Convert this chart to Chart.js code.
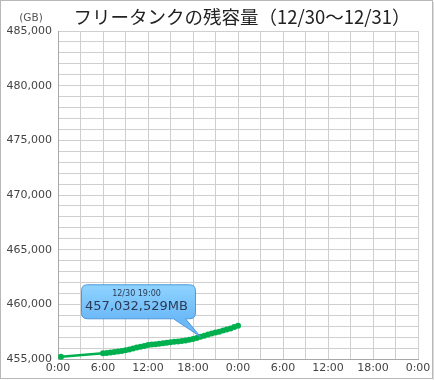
<!DOCTYPE html>
<html>
<head>
<meta charset="utf-8">
<script src="https://cdn.jsdelivr.net/npm/chart.js@4/dist/chart.umd.min.js"></script>
<style>
  html, body { margin: 0; padding: 0; background: #fff; }
  #wrap { width: 434px; height: 380px; }
</style>
</head>
<body>
<div id="wrap"><canvas id="myChart" width="434" height="380"></canvas></div>
<script>
// ----------- DATA ------------
// hours since 12/30 0:00
const hours = [0.4, 6, 6.5, 7, 7.5, 8, 8.5, 9, 9.5, 10, 10.5, 11, 11.5, 12, 12.5, 13, 13.5, 14, 14.5,
  15, 15.5, 16, 16.5, 17, 17.5, 18, 18.5, 19, 19.5, 20, 20.5, 21, 21.5, 22, 22.5, 23, 23.5, 24];
// free capacity (GB)
const capacity = [455200, 455520, 455560, 455600, 455650, 455690, 455730, 455800, 455880, 455960,
  456050, 456130, 456200, 456270, 456320, 456360, 456400, 456440, 456490, 456530, 456570, 456610,
  456650, 456700, 456760, 456830, 456920, 457032, 457130, 457230, 457330, 457420, 457500, 457600,
  457700, 457800, 457920, 458050];
const titleText = 'フリータンクの残容量（12/30〜12/31）';
const unitText = '(GB)';
const calloutIndex = 27;
const calloutDate = '12/30 19:00';
const calloutValue = '457,032,529MB';

const points = hours.map((h, i) => ({ x: h, y: capacity[i] }));

// ----------- PLUGIN ------------
var tipX = 0, tipY = 0;
function calloutPath(ctx, x, y, w, h, r) {
  ctx.beginPath();
  ctx.moveTo(x + r, y);
  ctx.lineTo(x + w - r, y);
  ctx.quadraticCurveTo(x + w, y, x + w, y + r);
  ctx.lineTo(x + w, y + h - r);
  ctx.quadraticCurveTo(x + w, y + h, x + w - r, y + h);
  ctx.lineTo(x + 104, y + h);
  ctx.lineTo(tipX, tipY);
  ctx.lineTo(x + 92, y + h);
  ctx.lineTo(x + r, y + h);
  ctx.quadraticCurveTo(x, y + h, x, y + h - r);
  ctx.lineTo(x, y + r);
  ctx.quadraticCurveTo(x, y, x + r, y);
  ctx.closePath();
}

const decorPlugin = {
  id: 'decor',
  afterDraw(chart) {
    const ctx = chart.ctx;
    ctx.save();
    // frame
    ctx.strokeStyle = '#b8b8b8';
    ctx.lineWidth = 1;
    ctx.strokeRect(0.5, 0.5, 432, 378);
    ctx.strokeStyle = '#dcdcdc';
    ctx.beginPath();
    ctx.moveTo(433.5, 2); ctx.lineTo(433.5, 380);
    ctx.stroke();
    // title
    ctx.fillStyle = '#222';
    ctx.font = '18.5px "Noto Sans CJK JP"';
    ctx.textAlign = 'center';
    ctx.textBaseline = 'middle';
    ctx.fillText(titleText, 242, 17);
    ctx.font = '10.5px "DejaVu Sans"';
    ctx.fillStyle = '#555';
    ctx.fillText(unitText, 31, 18);

    // callout
    const xs = chart.scales.x, ys = chart.scales.y;
    tipX = xs.getPixelForValue(hours[calloutIndex]);
    tipY = ys.getPixelForValue(capacity[calloutIndex]);
    const bx = tipX - 119, by = tipY - 52, bw = 114, bh = 34;
    const grad = ctx.createLinearGradient(0, by, 0, by + bh);
    grad.addColorStop(0, '#8fd3ff');
    grad.addColorStop(1, '#6cb9f7');
    calloutPath(ctx, bx, by, bw, bh, 6);
    ctx.fillStyle = grad;
    ctx.fill();
    ctx.strokeStyle = '#4f97d8';
    ctx.lineWidth = 1;
    ctx.stroke();
    ctx.fillStyle = '#2b3a55';
    ctx.font = '8px "DejaVu Sans"';
    ctx.fillText(calloutDate, bx + 55, by + 9);
    ctx.font = '13px "DejaVu Sans"';
    ctx.fillText(calloutValue, bx + 55, by + 22);
    ctx.restore();
  }
};

// ----------- CHART ------------
function chart_layout() {
  new Chart(document.getElementById('myChart'), {
    type: 'line',
    data: {
      datasets: [{
        data: points,
        borderColor: '#00b04f',
        backgroundColor: '#00b04f',
        borderWidth: 2.5,
        pointRadius: 3,
        pointBorderWidth: 0,
        tension: 0,
        fill: false,
        clip: false
      }]
    },
    options: {
      responsive: false,
      animation: false,
      layout: { padding: { top: 31, right: 16, left: 0, bottom: 0 } },
      plugins: { legend: { display: false }, tooltip: { enabled: false } },
      scales: {
        x: {
          type: 'linear',
          min: 0, max: 48,
          afterFit: s => { s.height = 21; },
          ticks: {
            stepSize: 3,
            autoSkip: false,
            maxRotation: 0,
            padding: 3,
            color: '#444',
            font: { family: 'DejaVu Sans', size: 11 },
            callback: v => (v % 6 === 0 ? (v % 24) + ':00' : '')
          },
          grid: { color: '#cfcfcf', drawTicks: false },
          border: { color: '#a8a8a8' }
        },
        y: {
          min: 455000, max: 485000,
          afterFit: s => { s.width = 58; },
          ticks: {
            stepSize: 1000,
            autoSkip: false,
            padding: 6,
            color: '#444',
            font: { family: 'DejaVu Sans', size: 11 },
            callback: v => (v % 5000 === 0 ? v.toLocaleString('en-US') : '')
          },
          grid: { color: '#cfcfcf', drawTicks: false },
          border: { color: '#a8a8a8' }
        }
      }
    },
    plugins: [decorPlugin]
  });
}

document.addEventListener('DOMContentLoaded', function () {
  chart_layout();
});
</script>
</body>
</html>
